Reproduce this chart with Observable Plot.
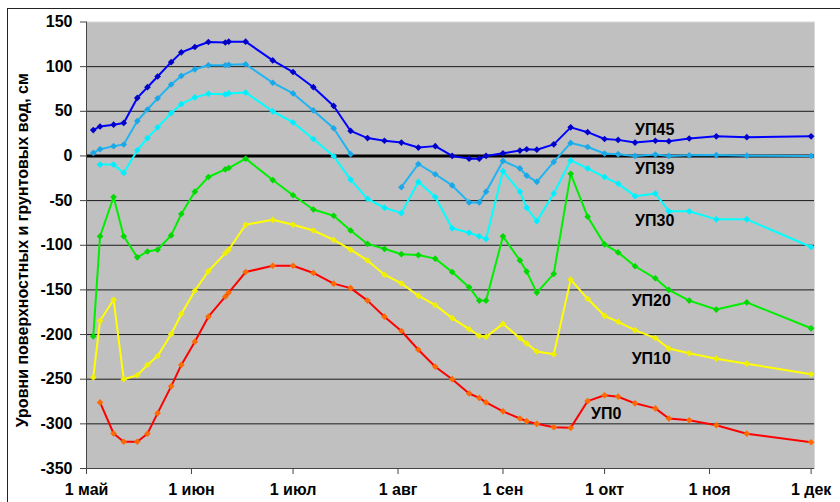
<!DOCTYPE html>
<html>
<head>
<meta charset="utf-8">
<script src="https://cdn.jsdelivr.net/npm/d3@7"></script>
<script src="https://cdn.jsdelivr.net/npm/@observablehq/plot@0.6"></script>
<style>
  html, body { margin: 0; padding: 0; background: #fff; }
  #wrap { position: relative; width: 840px; height: 502px; overflow: hidden; }
  #chart { position: absolute; left: 0; top: 0; z-index: 1; }
  #border { position: absolute; left: 7px; top: 8px; width: 900px; height: 600px; border: 1px solid #222; pointer-events: none; z-index: 2; }
</style>
</head>
<body>
<div id="wrap"><div id="chart"></div><div id="border"></div></div>
<script>
// ---- data ----
const dates = ["2009-05-03","2009-05-05","2009-05-09","2009-05-12","2009-05-16","2009-05-19","2009-05-22","2009-05-26","2009-05-29",
  "2009-06-02","2009-06-06","2009-06-11","2009-06-12","2009-06-17","2009-06-25",
  "2009-07-01","2009-07-07","2009-07-13","2009-07-18","2009-07-23","2009-07-28",
  "2009-08-02","2009-08-07","2009-08-12","2009-08-17","2009-08-22","2009-08-25","2009-08-27",
  "2009-09-01","2009-09-06","2009-09-08","2009-09-11","2009-09-16","2009-09-21","2009-09-26",
  "2009-10-01","2009-10-05","2009-10-10","2009-10-16","2009-10-20","2009-10-26",
  "2009-11-03","2009-11-12","2009-12-01"];

const up45 = [29,33,35,37,65,77,89,105,116,122,127.6,127,128,128,107,94,77,56,28,20,17,15,9.4,11,0,-3,-3,0,3,6,7.5,7,13,32,26.6,19,18,15,17,16.5,19.5,22,21,22];
const up39 = [3.4,7.5,11,12.8,39,52,64.5,80,89.6,97,101.6,101.6,102,102.7,82,70,51,31,2,null,null,-35,-9,-20.5,-33,-52,-52,-40,-5.6,-14,-22,-29,-6.7,14.6,10,2.7,2,0,1.5,0,0.7,1,0.3,0];
const up30 = [null,-9.7,-9.7,-19,6.4,20,32,48,58,65.6,69.7,69,70,71,50,37.5,19,-0.3,-26.5,-48,-58,-64,-29,-46,-81,-86,-90,-93,-17,-40,-58,-73,-42,-5,-14,-23.6,-31,-45,-42,-62,-62,-71,-71,-102];
const up20 = [-202,-90,-46,-90,-113.5,-107,-105,-89,-65,-40,-23.6,-15,-13.5,-3,-27,-44,-60,-67,-83.5,-98.5,-104,-110,-111,-115,-130,-147,-162,-162,-90,-117,-129.5,-153,-132,-20,-68,-99,-108,-123.5,-137,-150,-162,-172,-164,-193];
const up10 = [-248,-184.6,-161,-250,-245.6,-234,-224,-199.6,-177,-151,-129,-109,-105,-77,-71.5,-77,-83.5,-94,-105,-117,-133,-142.7,-156.5,-167,-181.6,-194,-201.5,-202.6,-188,-204,-210,-219,-222,-138.5,-160,-179,-185.7,-195,-204,-215.7,-221,-227,-232.6,-244.5];
const up0 = [null,-276,-310.8,-320,-320,-311,-288,-258,-234,-208,-180,-157.6,-153,-130,-123,-123,-131,-143,-148,-162,-180,-196,-217,-236,-250,-266,-271,-276,-286,-294,-297,-300,-303.7,-304.5,-274.5,-268,-269.6,-277,-282.7,-294,-296,-301.5,-311,-320.6];

const seriesNames = ["УП0","УП10","УП20","УП30","УП39","УП45"];
const seriesValues = [up0, up10, up20, up30, up39, up45];

const yTicks = [150,100,50,0,-50,-100,-150,-200,-250,-300,-350];
const gridValues = [100,50,-50,-100,-150,-200,-250,-300];
const xTickDates = ["2009-05-01","2009-06-01","2009-07-01","2009-08-01","2009-09-01","2009-10-01","2009-11-01","2009-12-01"];
const xTickLabels = ["1 май","1 июн","1 июл","1 авг","1 сен","1 окт","1 ноя","1 дек"];
const yTitle = "Уровни поверхностных и грунтовых вод, см";

// series label anchors (data coordinates)
const labelNames = ["УП45","УП39","УП30","УП20","УП10","УП0"];
const labelDates = ["2009-10-10","2009-10-10","2009-10-10","2009-10-09","2009-10-09","2009-09-27"];
const labelValues = [29,-15,-73,-162,-227,-289];

// ---- styles ----
const lineColors = {"УП45":"#0000ff","УП39":"#20b4f0","УП30":"#00ffff","УП20":"#00ee00","УП10":"#ffff00","УП0":"#ff0000"};
const markColors = {"УП45":"#0000c8","УП39":"#1aa8e8","УП30":"#00eeff","УП20":"#00d800","УП10":"#f0f000","УП0":"#ff6a00"};

const parse = s => new Date(s + "T00:00:00Z");
const rows = [];
seriesNames.forEach((name, k) => {
  seriesValues[k].forEach((v, i) => rows.push({date: parse(dates[i]), value: v, series: name}));
});
const pts = rows.filter(d => d.value != null);
const labels = labelNames.map((n, i) => ({name: n, date: parse(labelDates[i]), value: labelValues[i]}));
const xTicks = xTickDates.map(parse);

const chart = Plot.plot({
  width: 840,
  height: 502,
  marginLeft: 86,
  marginRight: 26,
  marginTop: 21.5,
  marginBottom: 34,
  style: {background: "transparent", fontFamily: "Arial, 'Liberation Sans', sans-serif", fontSize: "16px", fontWeight: "bold", color: "#000"},
  x: {type: "utc", domain: [parse("2009-05-01"), parse("2009-12-02")]},
  y: {domain: [-350, 150]},
  marks: [
    Plot.frame({fill: "#c0c0c0", stroke: "#d8d8d8"}),
    Plot.ruleY(gridValues, {stroke: "#1a1a1a", strokeWidth: 1}),
    Plot.ruleY([0], {stroke: "#000", strokeWidth: 3}),
    Plot.ruleX([parse("2009-05-01")], {stroke: "#444", strokeWidth: 1}),
    Plot.ruleY([-350], {stroke: "#444", strokeWidth: 1}),
    Plot.axisY({ticks: yTicks, tickSize: 6, tickPadding: 8, tickFormat: d => String(d), label: null, stroke: "#444"}),
    Plot.axisX({ticks: xTicks, tickSize: 6, tickPadding: 9, label: null, stroke: "#444",
      tickFormat: d => xTickLabels[xTicks.findIndex(t => +t === +d)]}),
    Plot.line(rows, {x: "date", y: "value", z: "series", stroke: d => lineColors[d.series], strokeWidth: 2, curve: "linear"}),
    Plot.dot(pts, {x: "date", y: "value", fill: d => markColors[d.series], stroke: "none",
      symbol: d3.symbolDiamond2 || d3.symbolDiamond, r: 3}),
    Plot.text(labels, {x: "date", y: "value", text: "name", textAnchor: "start", fill: "#000", fontSize: 16, fontWeight: "bold"}),
    Plot.text([yTitle], {frameAnchor: "left", textAnchor: "middle", lineAnchor: "middle", rotate: -90, dx: -64, dy: 5, fill: "#000", fontSize: 16, fontWeight: "bold"})
  ]
});
document.getElementById("chart").appendChild(chart);
</script>
</body>
</html>
